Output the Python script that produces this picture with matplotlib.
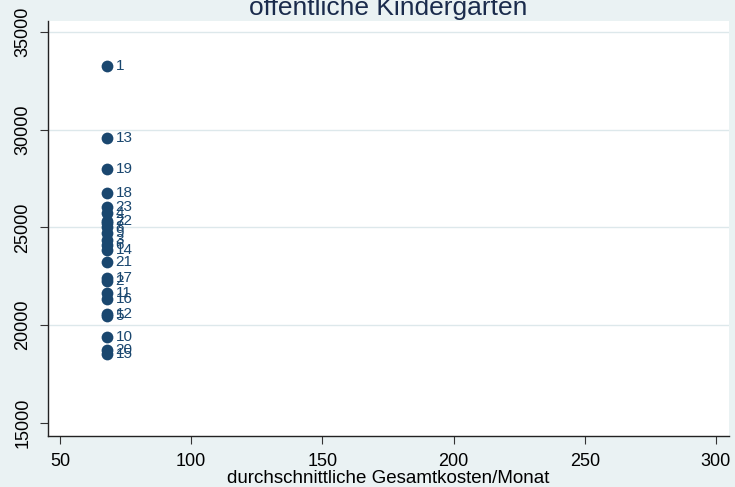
import matplotlib
matplotlib.use("Agg")
import matplotlib.pyplot as plt

plt.rcParams["font.family"] = ["Liberation Sans", "DejaVu Sans"]

# ---- data (one point per kindergarten) ----
ids = [1, 13, 19, 18, 23, 4, 22, 7, 8, 9, 3, 6, 14, 21,
       17, 2, 11, 16, 12, 5, 10, 20, 15]
kosten = [68] * len(ids)
werte = [33230, 29560, 27970, 26750, 26040, 25730, 25330, 25220, 25020,
         24710, 24360, 24100, 23850, 23230, 22420, 22270, 21650, 21340,
         20580, 20480, 19400, 18720, 18530]

x_ticks = [50, 100, 150, 200, 250, 300]
y_ticks = [15000, 20000, 25000, 30000, 35000]

BG = "#eaf2f3"
NAVY = "#1a476f"
GRID = "#dde8eb"

fig = plt.figure(figsize=(7.35, 4.87), dpi=100, facecolor=BG)
ax = fig.add_axes([0.0653, 0.1047, 0.9265, 0.8528])
ax.set_facecolor("white")

for yv in y_ticks[1:]:
    ax.axhline(yv, color=GRID, linewidth=1.0, zorder=0)

ax.scatter(kosten, werte, s=72, color=NAVY, zorder=3, linewidths=0)
for i, xv, yv in zip(ids, kosten, werte):
    ax.annotate(str(i), (xv, yv), xytext=(6, 0), textcoords="offset points",
                ha="left", va="center", fontsize=11, color=NAVY, zorder=4)

ax.set_xlim(45.4, 305)
ax.set_ylim(14340, 35560)
ax.set_xticks(x_ticks)
ax.set_yticks(y_ticks)
ax.tick_params(axis="both", direction="out", length=6, width=0.8,
               color="#333333", labelsize=13, pad=6)
plt.setp(ax.get_yticklabels(), rotation=90, va="center")

for side in ["top", "right"]:
    ax.spines[side].set_visible(False)
for side in ["left", "bottom"]:
    ax.spines[side].set_color("#222222")
    ax.spines[side].set_linewidth(1.0)

ax.set_xlabel("durchschnittliche Gesamtkosten/Monat", fontsize=13.5, labelpad=0)
fig.text(0.5286, 0.969, "öffentliche Kindergarten", ha="center", va="baseline",
         fontsize=19, color="#1a2b4c")

fig.savefig("out.png", dpi=100, facecolor=BG)
